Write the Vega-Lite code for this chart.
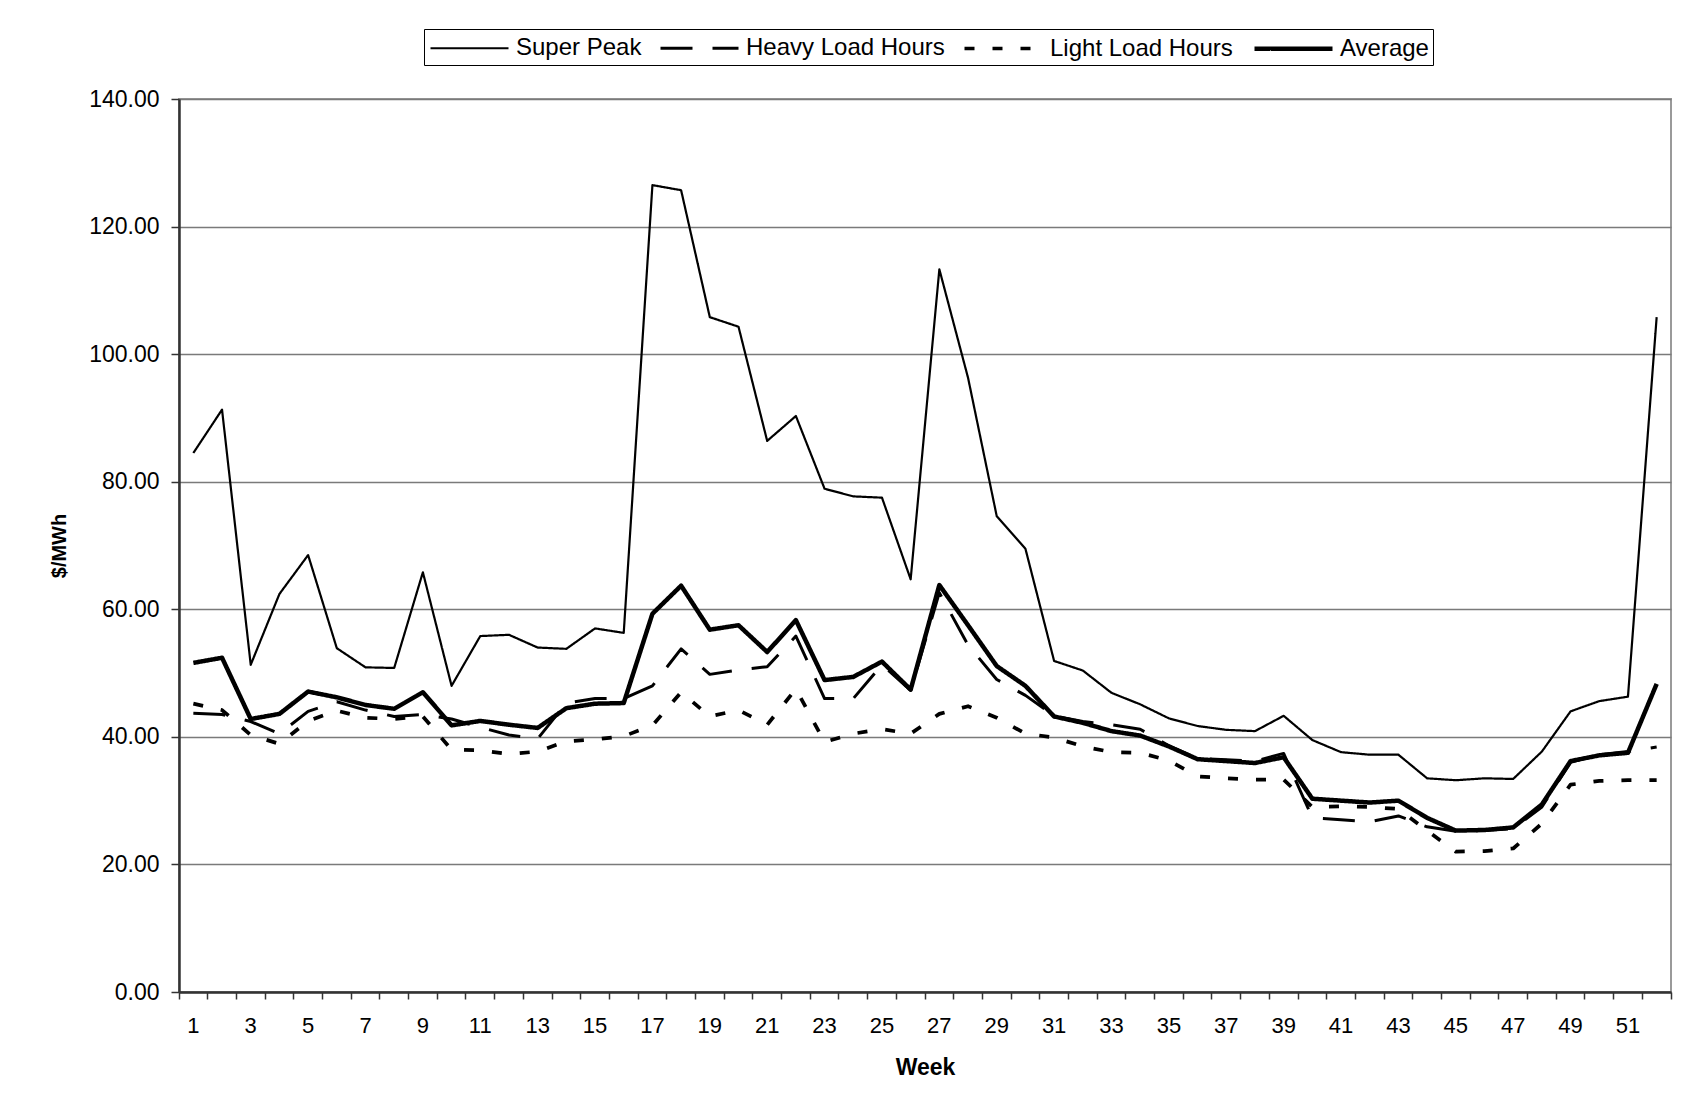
{
  "$schema": "https://vega.github.io/schema/vega-lite/v6.json",
  "autosize": {"type": "none"},
  "padding": {"left": 179, "top": 99, "right": 26, "bottom": 104},
  "width": 1492,
  "height": 893,
  "background": "white",
  "config": {
    "font": "Liberation Sans",
    "view": {"stroke": "#9a9a9a", "strokeWidth": 2}
  },
  "data": {
    "values": [
      {"Week": 1, "Series": "Super Peak", "Price": 84.5},
      {"Week": 2, "Series": "Super Peak", "Price": 91.3},
      {"Week": 3, "Series": "Super Peak", "Price": 51.3},
      {"Week": 4, "Series": "Super Peak", "Price": 62.4},
      {"Week": 5, "Series": "Super Peak", "Price": 68.5},
      {"Week": 6, "Series": "Super Peak", "Price": 53.9},
      {"Week": 7, "Series": "Super Peak", "Price": 50.9},
      {"Week": 8, "Series": "Super Peak", "Price": 50.8},
      {"Week": 9, "Series": "Super Peak", "Price": 65.8},
      {"Week": 10, "Series": "Super Peak", "Price": 48.0},
      {"Week": 11, "Series": "Super Peak", "Price": 55.8},
      {"Week": 12, "Series": "Super Peak", "Price": 56.0},
      {"Week": 13, "Series": "Super Peak", "Price": 54.0},
      {"Week": 14, "Series": "Super Peak", "Price": 53.8},
      {"Week": 15, "Series": "Super Peak", "Price": 57.0},
      {"Week": 16, "Series": "Super Peak", "Price": 56.3},
      {"Week": 17, "Series": "Super Peak", "Price": 126.5},
      {"Week": 18, "Series": "Super Peak", "Price": 125.7},
      {"Week": 19, "Series": "Super Peak", "Price": 105.8},
      {"Week": 20, "Series": "Super Peak", "Price": 104.3},
      {"Week": 21, "Series": "Super Peak", "Price": 86.4},
      {"Week": 22, "Series": "Super Peak", "Price": 90.3},
      {"Week": 23, "Series": "Super Peak", "Price": 78.9},
      {"Week": 24, "Series": "Super Peak", "Price": 77.7},
      {"Week": 25, "Series": "Super Peak", "Price": 77.5},
      {"Week": 26, "Series": "Super Peak", "Price": 64.7},
      {"Week": 27, "Series": "Super Peak", "Price": 113.3},
      {"Week": 28, "Series": "Super Peak", "Price": 96.3},
      {"Week": 29, "Series": "Super Peak", "Price": 74.6},
      {"Week": 30, "Series": "Super Peak", "Price": 69.5},
      {"Week": 31, "Series": "Super Peak", "Price": 51.9},
      {"Week": 32, "Series": "Super Peak", "Price": 50.4},
      {"Week": 33, "Series": "Super Peak", "Price": 46.9},
      {"Week": 34, "Series": "Super Peak", "Price": 45.1},
      {"Week": 35, "Series": "Super Peak", "Price": 42.9},
      {"Week": 36, "Series": "Super Peak", "Price": 41.7},
      {"Week": 37, "Series": "Super Peak", "Price": 41.1},
      {"Week": 38, "Series": "Super Peak", "Price": 40.9},
      {"Week": 39, "Series": "Super Peak", "Price": 43.3},
      {"Week": 40, "Series": "Super Peak", "Price": 39.5},
      {"Week": 41, "Series": "Super Peak", "Price": 37.6},
      {"Week": 42, "Series": "Super Peak", "Price": 37.2},
      {"Week": 43, "Series": "Super Peak", "Price": 37.2},
      {"Week": 44, "Series": "Super Peak", "Price": 33.5},
      {"Week": 45, "Series": "Super Peak", "Price": 33.2},
      {"Week": 46, "Series": "Super Peak", "Price": 33.5},
      {"Week": 47, "Series": "Super Peak", "Price": 33.4},
      {"Week": 48, "Series": "Super Peak", "Price": 37.7},
      {"Week": 49, "Series": "Super Peak", "Price": 44.0},
      {"Week": 50, "Series": "Super Peak", "Price": 45.6},
      {"Week": 51, "Series": "Super Peak", "Price": 46.3},
      {"Week": 52, "Series": "Super Peak", "Price": 105.8},

      {"Week": 1, "Series": "Heavy Load Hours", "Price": 43.7},
      {"Week": 2, "Series": "Heavy Load Hours", "Price": 43.5},
      {"Week": 3, "Series": "Heavy Load Hours", "Price": 42.4},
      {"Week": 4, "Series": "Heavy Load Hours", "Price": 40.5},
      {"Week": 5, "Series": "Heavy Load Hours", "Price": 44.0},
      {"Week": 6, "Series": "Heavy Load Hours", "Price": 45.5},
      {"Week": 7, "Series": "Heavy Load Hours", "Price": 44.2},
      {"Week": 8, "Series": "Heavy Load Hours", "Price": 43.2},
      {"Week": 9, "Series": "Heavy Load Hours", "Price": 43.5},
      {"Week": 10, "Series": "Heavy Load Hours", "Price": 42.8},
      {"Week": 11, "Series": "Heavy Load Hours", "Price": 41.5},
      {"Week": 12, "Series": "Heavy Load Hours", "Price": 40.3},
      {"Week": 13, "Series": "Heavy Load Hours", "Price": 39.7},
      {"Week": 14, "Series": "Heavy Load Hours", "Price": 45.3},
      {"Week": 15, "Series": "Heavy Load Hours", "Price": 46.0},
      {"Week": 16, "Series": "Heavy Load Hours", "Price": 46.0},
      {"Week": 17, "Series": "Heavy Load Hours", "Price": 48.0},
      {"Week": 18, "Series": "Heavy Load Hours", "Price": 53.8},
      {"Week": 19, "Series": "Heavy Load Hours", "Price": 49.8},
      {"Week": 20, "Series": "Heavy Load Hours", "Price": 50.5},
      {"Week": 21, "Series": "Heavy Load Hours", "Price": 51.0},
      {"Week": 22, "Series": "Heavy Load Hours", "Price": 55.8},
      {"Week": 23, "Series": "Heavy Load Hours", "Price": 46.0},
      {"Week": 24, "Series": "Heavy Load Hours", "Price": 46.0},
      {"Week": 25, "Series": "Heavy Load Hours", "Price": 51.3},
      {"Week": 26, "Series": "Heavy Load Hours", "Price": 47.3},
      {"Week": 27, "Series": "Heavy Load Hours", "Price": 62.6},
      {"Week": 28, "Series": "Heavy Load Hours", "Price": 54.4},
      {"Week": 29, "Series": "Heavy Load Hours", "Price": 49.0},
      {"Week": 30, "Series": "Heavy Load Hours", "Price": 46.5},
      {"Week": 31, "Series": "Heavy Load Hours", "Price": 43.3},
      {"Week": 32, "Series": "Heavy Load Hours", "Price": 42.4},
      {"Week": 33, "Series": "Heavy Load Hours", "Price": 41.9},
      {"Week": 34, "Series": "Heavy Load Hours", "Price": 41.2},
      {"Week": 35, "Series": "Heavy Load Hours", "Price": 38.6},
      {"Week": 36, "Series": "Heavy Load Hours", "Price": 36.6},
      {"Week": 37, "Series": "Heavy Load Hours", "Price": 36.4},
      {"Week": 38, "Series": "Heavy Load Hours", "Price": 36.2},
      {"Week": 39, "Series": "Heavy Load Hours", "Price": 37.4},
      {"Week": 40, "Series": "Heavy Load Hours", "Price": 27.3},
      {"Week": 41, "Series": "Heavy Load Hours", "Price": 27.0},
      {"Week": 42, "Series": "Heavy Load Hours", "Price": 26.7},
      {"Week": 43, "Series": "Heavy Load Hours", "Price": 27.6},
      {"Week": 44, "Series": "Heavy Load Hours", "Price": 25.9},
      {"Week": 45, "Series": "Heavy Load Hours", "Price": 25.2},
      {"Week": 46, "Series": "Heavy Load Hours", "Price": 25.3},
      {"Week": 47, "Series": "Heavy Load Hours", "Price": 25.6},
      {"Week": 48, "Series": "Heavy Load Hours", "Price": 29.0},
      {"Week": 49, "Series": "Heavy Load Hours", "Price": 36.0},
      {"Week": 50, "Series": "Heavy Load Hours", "Price": 37.2},
      {"Week": 51, "Series": "Heavy Load Hours", "Price": 37.7},
      {"Week": 52, "Series": "Heavy Load Hours", "Price": 38.4},

      {"Week": 1, "Series": "Light Load Hours", "Price": 45.2},
      {"Week": 2, "Series": "Light Load Hours", "Price": 44.2},
      {"Week": 3, "Series": "Light Load Hours", "Price": 40.3},
      {"Week": 4, "Series": "Light Load Hours", "Price": 38.9},
      {"Week": 5, "Series": "Light Load Hours", "Price": 42.5},
      {"Week": 6, "Series": "Light Load Hours", "Price": 44.1},
      {"Week": 7, "Series": "Light Load Hours", "Price": 43.0},
      {"Week": 8, "Series": "Light Load Hours", "Price": 42.8},
      {"Week": 9, "Series": "Light Load Hours", "Price": 43.2},
      {"Week": 10, "Series": "Light Load Hours", "Price": 38.0},
      {"Week": 11, "Series": "Light Load Hours", "Price": 37.9},
      {"Week": 12, "Series": "Light Load Hours", "Price": 37.3},
      {"Week": 13, "Series": "Light Load Hours", "Price": 37.7},
      {"Week": 14, "Series": "Light Load Hours", "Price": 39.3},
      {"Week": 15, "Series": "Light Load Hours", "Price": 39.6},
      {"Week": 16, "Series": "Light Load Hours", "Price": 40.1},
      {"Week": 17, "Series": "Light Load Hours", "Price": 41.8},
      {"Week": 18, "Series": "Light Load Hours", "Price": 47.0},
      {"Week": 19, "Series": "Light Load Hours", "Price": 43.2},
      {"Week": 20, "Series": "Light Load Hours", "Price": 44.2},
      {"Week": 21, "Series": "Light Load Hours", "Price": 41.9},
      {"Week": 22, "Series": "Light Load Hours", "Price": 47.5},
      {"Week": 23, "Series": "Light Load Hours", "Price": 39.2},
      {"Week": 24, "Series": "Light Load Hours", "Price": 40.5},
      {"Week": 25, "Series": "Light Load Hours", "Price": 41.2},
      {"Week": 26, "Series": "Light Load Hours", "Price": 40.5},
      {"Week": 27, "Series": "Light Load Hours", "Price": 43.6},
      {"Week": 28, "Series": "Light Load Hours", "Price": 44.8},
      {"Week": 29, "Series": "Light Load Hours", "Price": 43.0},
      {"Week": 30, "Series": "Light Load Hours", "Price": 40.5},
      {"Week": 31, "Series": "Light Load Hours", "Price": 39.9},
      {"Week": 32, "Series": "Light Load Hours", "Price": 38.5},
      {"Week": 33, "Series": "Light Load Hours", "Price": 37.6},
      {"Week": 34, "Series": "Light Load Hours", "Price": 37.5},
      {"Week": 35, "Series": "Light Load Hours", "Price": 36.3},
      {"Week": 36, "Series": "Light Load Hours", "Price": 33.8},
      {"Week": 37, "Series": "Light Load Hours", "Price": 33.5},
      {"Week": 38, "Series": "Light Load Hours", "Price": 33.3},
      {"Week": 39, "Series": "Light Load Hours", "Price": 33.3},
      {"Week": 40, "Series": "Light Load Hours", "Price": 29.0},
      {"Week": 41, "Series": "Light Load Hours", "Price": 29.1},
      {"Week": 42, "Series": "Light Load Hours", "Price": 29.0},
      {"Week": 43, "Series": "Light Load Hours", "Price": 28.7},
      {"Week": 44, "Series": "Light Load Hours", "Price": 25.3},
      {"Week": 45, "Series": "Light Load Hours", "Price": 22.0},
      {"Week": 46, "Series": "Light Load Hours", "Price": 22.1},
      {"Week": 47, "Series": "Light Load Hours", "Price": 22.5},
      {"Week": 48, "Series": "Light Load Hours", "Price": 26.4},
      {"Week": 49, "Series": "Light Load Hours", "Price": 32.5},
      {"Week": 50, "Series": "Light Load Hours", "Price": 33.1},
      {"Week": 51, "Series": "Light Load Hours", "Price": 33.2},
      {"Week": 52, "Series": "Light Load Hours", "Price": 33.2},

      {"Week": 1, "Series": "Average", "Price": 51.6},
      {"Week": 2, "Series": "Average", "Price": 52.4},
      {"Week": 3, "Series": "Average", "Price": 42.8},
      {"Week": 4, "Series": "Average", "Price": 43.6},
      {"Week": 5, "Series": "Average", "Price": 47.1},
      {"Week": 6, "Series": "Average", "Price": 46.2},
      {"Week": 7, "Series": "Average", "Price": 45.0},
      {"Week": 8, "Series": "Average", "Price": 44.4},
      {"Week": 9, "Series": "Average", "Price": 47.0},
      {"Week": 10, "Series": "Average", "Price": 41.8},
      {"Week": 11, "Series": "Average", "Price": 42.5},
      {"Week": 12, "Series": "Average", "Price": 41.9},
      {"Week": 13, "Series": "Average", "Price": 41.4},
      {"Week": 14, "Series": "Average", "Price": 44.5},
      {"Week": 15, "Series": "Average", "Price": 45.2},
      {"Week": 16, "Series": "Average", "Price": 45.3},
      {"Week": 17, "Series": "Average", "Price": 59.3},
      {"Week": 18, "Series": "Average", "Price": 63.7},
      {"Week": 19, "Series": "Average", "Price": 56.8},
      {"Week": 20, "Series": "Average", "Price": 57.5},
      {"Week": 21, "Series": "Average", "Price": 53.3},
      {"Week": 22, "Series": "Average", "Price": 58.3},
      {"Week": 23, "Series": "Average", "Price": 48.9},
      {"Week": 24, "Series": "Average", "Price": 49.4},
      {"Week": 25, "Series": "Average", "Price": 51.8},
      {"Week": 26, "Series": "Average", "Price": 47.4},
      {"Week": 27, "Series": "Average", "Price": 63.8},
      {"Week": 28, "Series": "Average", "Price": 57.5},
      {"Week": 29, "Series": "Average", "Price": 51.1},
      {"Week": 30, "Series": "Average", "Price": 48.0},
      {"Week": 31, "Series": "Average", "Price": 43.2},
      {"Week": 32, "Series": "Average", "Price": 42.2},
      {"Week": 33, "Series": "Average", "Price": 40.9},
      {"Week": 34, "Series": "Average", "Price": 40.2},
      {"Week": 35, "Series": "Average", "Price": 38.5},
      {"Week": 36, "Series": "Average", "Price": 36.5},
      {"Week": 37, "Series": "Average", "Price": 36.2},
      {"Week": 38, "Series": "Average", "Price": 35.9},
      {"Week": 39, "Series": "Average", "Price": 36.8},
      {"Week": 40, "Series": "Average", "Price": 30.3},
      {"Week": 41, "Series": "Average", "Price": 30.0},
      {"Week": 42, "Series": "Average", "Price": 29.7},
      {"Week": 43, "Series": "Average", "Price": 30.0},
      {"Week": 44, "Series": "Average", "Price": 27.3},
      {"Week": 45, "Series": "Average", "Price": 25.3},
      {"Week": 46, "Series": "Average", "Price": 25.4},
      {"Week": 47, "Series": "Average", "Price": 25.8},
      {"Week": 48, "Series": "Average", "Price": 29.4},
      {"Week": 49, "Series": "Average", "Price": 36.2},
      {"Week": 50, "Series": "Average", "Price": 37.1},
      {"Week": 51, "Series": "Average", "Price": 37.5},
      {"Week": 52, "Series": "Average", "Price": 48.3}
    ]
  },
  "mark": {"type": "line", "color": "black", "strokeCap": "butt", "strokeJoin": "round"},
  "encoding": {
    "x": {
      "field": "Week",
      "type": "ordinal",
      "bandPosition": 0.5,
      "scale": {"type": "band", "paddingInner": 0, "paddingOuter": 0},
      "axis": {
        "title": "Week",
        "titleFont": "Liberation Sans",
        "titleFontSize": 23,
        "titleFontWeight": "bold",
        "titleColor": "black",
        "titlePadding": 20,
        "labelAngle": 0,
        "labelFont": "Liberation Sans",
        "labelFontSize": 22,
        "labelColor": "black",
        "labelPadding": 16,
        "labelOverlap": false,
        "labelExpr": "datum.value % 2 == 1 ? datum.label : ''",
        "bandPosition": 1,
        "tickExtra": true,
        "labelOffset": 0,
        "tickSize": 7,
        "tickColor": "#333333",
        "tickWidth": 1.5,
        "domainColor": "#333333",
        "domainWidth": 2.5,
        "grid": false
      }
    },
    "y": {
      "field": "Price",
      "type": "quantitative",
      "scale": {"domain": [0, 140], "nice": false, "zero": true},
      "axis": {
        "title": "$/MWh",
        "titleFont": "Liberation Sans",
        "titleFontSize": 20,
        "titleFontWeight": "bold",
        "titleColor": "black",
        "titlePadding": 19,
        "values": [0, 20, 40, 60, 80, 100, 120, 140],
        "format": ".2f",
        "labelFont": "Liberation Sans",
        "labelFontSize": 23,
        "labelColor": "black",
        "labelPadding": 12,
        "tickSize": 8,
        "tickColor": "#333333",
        "tickWidth": 1.5,
        "domainColor": "#333333",
        "domainWidth": 2.5,
        "grid": true,
        "gridColor": "#7a7a7a",
        "gridWidth": 1.3
      }
    },
    "strokeDash": {
      "field": "Series",
      "type": "nominal",
      "scale": {
        "domain": ["Super Peak", "Heavy Load Hours", "Light Load Hours", "Average"],
        "range": [[1, 0], [32, 20], [10, 18], [1, 0]]
      },
      "legend": {
        "title": null,
        "orient": "none",
        "legendX": 245,
        "legendY": -70,
        "direction": "horizontal",
        "columns": 4,
        "symbolType": "M-3,0H3",
        "symbolSize": 676,
        "symbolOffset": 26,
        "symbolStrokeColor": "black",
        "labelFont": "Liberation Sans",
        "labelFontSize": 24,
        "labelLimit": 400,
        "labelColor": "black",
        "labelOffset": 31,
        "columnPadding": 12,
        "padding": 4,
        "strokeColor": "black",
        "fillColor": "white"
      }
    },
    "strokeWidth": {
      "field": "Series",
      "type": "nominal",
      "scale": {
        "domain": ["Super Peak", "Heavy Load Hours", "Light Load Hours", "Average"],
        "range": [2.2, 4.5, 4.5, 7.5]
      },
      "legend": {
        "title": null,
        "orient": "none",
        "legendX": 245,
        "legendY": -70,
        "direction": "horizontal",
        "columns": 4,
        "symbolType": "M-3,0H3",
        "symbolSize": 676,
        "symbolOffset": 26,
        "symbolStrokeColor": "black",
        "labelFont": "Liberation Sans",
        "labelFontSize": 24,
        "labelLimit": 400,
        "labelColor": "black",
        "labelOffset": 31,
        "columnPadding": 12,
        "padding": 4,
        "strokeColor": "black",
        "fillColor": "white"
      }
    }
  }
}
